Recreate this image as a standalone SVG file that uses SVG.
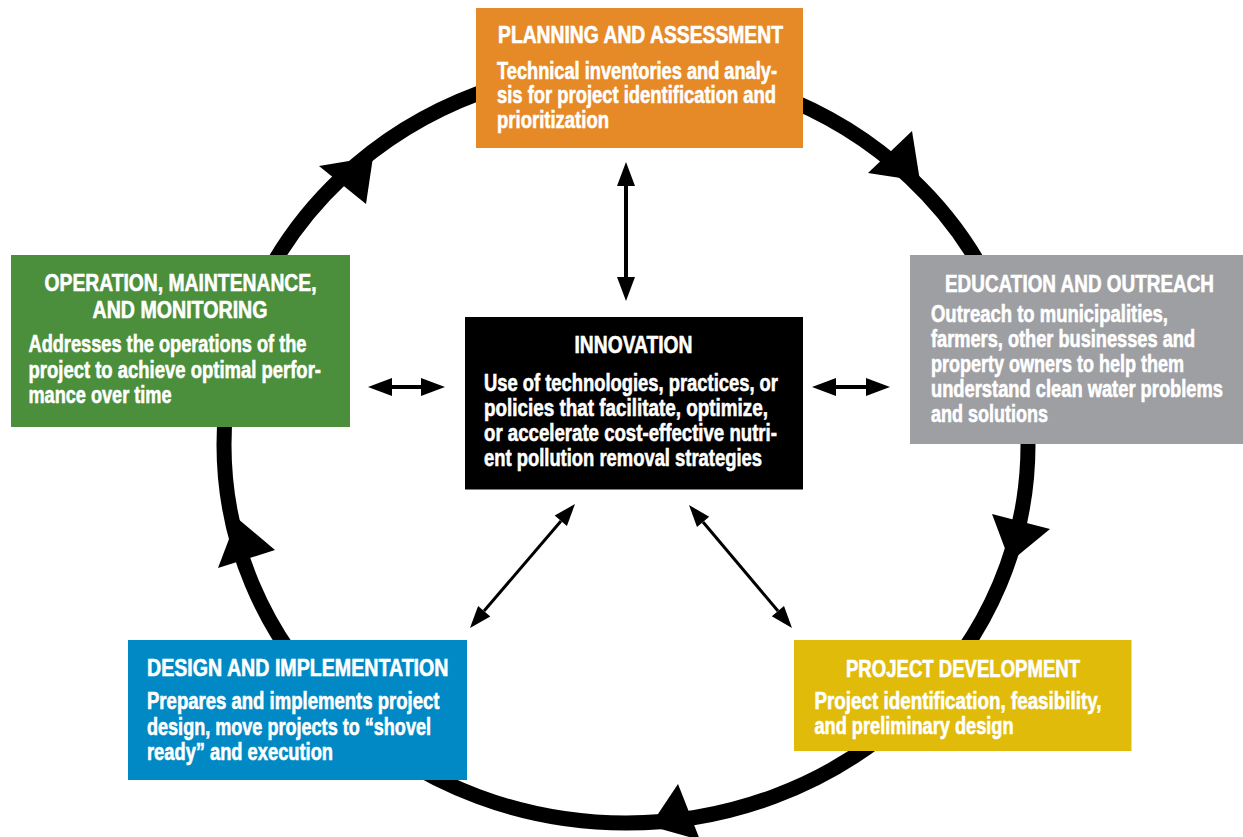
<svg xmlns="http://www.w3.org/2000/svg" width="1243" height="837" viewBox="0 0 1243 837">
<style>
.t{font-family:"Liberation Sans Narrow","Liberation Sans",Arial,sans-serif;font-weight:bold;font-size:23px;fill:#fff;stroke:#fff;stroke-width:0.6px}
.ring{fill:none;stroke:#000;stroke-width:15}
.head{fill:#000}
.shaft{stroke:#000;stroke-width:4;fill:none}
</style>
<rect width="1243" height="837" fill="#fff"/>
<g id="connectors">
<ellipse class="ring" cx="626" cy="445" rx="402" ry="378"/>
<polygon class="head" points="319,166 373,157 366,204"/>
<polygon class="head" points="912,131 920,181 868,173"/>
<polygon class="head" points="992,514 1050,529 1010,562"/>
<polygon class="head" points="678,784 650,826 700,840"/>
<polygon class="head" points="218,568 237,518 275,550"/>
<line class="shaft" x1="626" y1="184" x2="626" y2="279"/>
<polygon class="head" points="626,162 635,186 617,186"/>
<polygon class="head" points="626,301 635,277 617,277"/>
<line class="shaft" x1="390" y1="387" x2="423" y2="387"/>
<polygon class="head" points="368,387 392,378 392,396"/>
<polygon class="head" points="445,387 421,378 421,396"/>
<line class="shaft" x1="834" y1="387" x2="868" y2="387"/>
<polygon class="head" points="812,387 836,378 836,396"/>
<polygon class="head" points="890,387 866,378 866,396"/>
<line class="shaft" style="stroke-width:3" x1="561" y1="521" x2="484" y2="611"/>
<polygon class="head" points="575,504 566.9,526 554.7,515.6"/>
<polygon class="head" points="470,628 490.3,616.4 478.1,606"/>
<line class="shaft" style="stroke-width:3" x1="703" y1="522" x2="778" y2="611"/>
<polygon class="head" points="689,505 697,527 709.2,516.8"/>
<polygon class="head" points="792,628 771.8,616.2 784,606"/>
</g>
<g id="planning">
<rect x="476" y="8" width="327" height="140" fill="#E68A28"/>
<text class="t" x="498" y="43" textLength="285" lengthAdjust="spacingAndGlyphs">PLANNING AND ASSESSMENT</text>
<text class="t" x="497" y="78.5" textLength="280" lengthAdjust="spacingAndGlyphs">Technical inventories and analy-</text>
<text class="t" x="497" y="103" textLength="279" lengthAdjust="spacingAndGlyphs">sis for project identification and</text>
<text class="t" x="497" y="127.5" textLength="112" lengthAdjust="spacingAndGlyphs">prioritization</text>
</g>
<g id="education">
<rect x="910" y="255" width="333" height="189" fill="#9E9FA3"/>
<text class="t" x="945" y="291.5" textLength="269" lengthAdjust="spacingAndGlyphs">EDUCATION AND OUTREACH</text>
<text class="t" x="931" y="321.5" textLength="237" lengthAdjust="spacingAndGlyphs">Outreach to municipalities,</text>
<text class="t" x="931" y="346.5" textLength="264" lengthAdjust="spacingAndGlyphs">farmers, other businesses and</text>
<text class="t" x="931" y="371.5" textLength="253" lengthAdjust="spacingAndGlyphs">property owners to help them</text>
<text class="t" x="931" y="396.5" textLength="292" lengthAdjust="spacingAndGlyphs">understand clean water problems</text>
<text class="t" x="931" y="421.5" textLength="117" lengthAdjust="spacingAndGlyphs">and solutions</text>
</g>
<g id="operation">
<rect x="11" y="255" width="339" height="172" fill="#4B8E3B"/>
<text class="t" x="44.5" y="290.5" textLength="272" lengthAdjust="spacingAndGlyphs">OPERATION, MAINTENANCE,</text>
<text class="t" x="92.5" y="318" textLength="175" lengthAdjust="spacingAndGlyphs">AND MONITORING</text>
<text class="t" x="28.5" y="351.5" textLength="278" lengthAdjust="spacingAndGlyphs">Addresses the operations of the</text>
<text class="t" x="28.5" y="377.5" textLength="292.5" lengthAdjust="spacingAndGlyphs">project to achieve optimal perfor-</text>
<text class="t" x="28.5" y="403" textLength="143" lengthAdjust="spacingAndGlyphs">mance over time</text>
</g>
<g id="innovation">
<rect x="465" y="317" width="338" height="172.5" fill="#000"/>
<text class="t" x="574.5" y="352.5" textLength="118" lengthAdjust="spacingAndGlyphs">INNOVATION</text>
<text class="t" x="484" y="391" textLength="294" lengthAdjust="spacingAndGlyphs">Use of technologies, practices, or</text>
<text class="t" x="484" y="416" textLength="284" lengthAdjust="spacingAndGlyphs">policies that facilitate, optimize,</text>
<text class="t" x="484" y="441" textLength="293" lengthAdjust="spacingAndGlyphs">or accelerate cost-effective nutri-</text>
<text class="t" x="484" y="466" textLength="278" lengthAdjust="spacingAndGlyphs">ent pollution removal strategies</text>
</g>
<g id="design">
<rect x="128" y="640" width="339" height="140" fill="#0089C4"/>
<text class="t" x="147" y="675.5" textLength="301.5" lengthAdjust="spacingAndGlyphs">DESIGN AND IMPLEMENTATION</text>
<text class="t" x="147" y="709" textLength="292.5" lengthAdjust="spacingAndGlyphs">Prepares and implements project</text>
<text class="t" x="147" y="734.5" textLength="284" lengthAdjust="spacingAndGlyphs">design, move projects to “shovel</text>
<text class="t" x="147" y="760" textLength="186" lengthAdjust="spacingAndGlyphs">ready” and execution</text>
</g>
<g id="project">
<rect x="794" y="640" width="337.5" height="111" fill="#E1BB0A"/>
<text class="t" x="846" y="676.5" textLength="234" lengthAdjust="spacingAndGlyphs">PROJECT DEVELOPMENT</text>
<text class="t" x="814.5" y="709" textLength="287" lengthAdjust="spacingAndGlyphs">Project identification, feasibility,</text>
<text class="t" x="814.5" y="734" textLength="199" lengthAdjust="spacingAndGlyphs">and preliminary design</text>
</g>
</svg>
